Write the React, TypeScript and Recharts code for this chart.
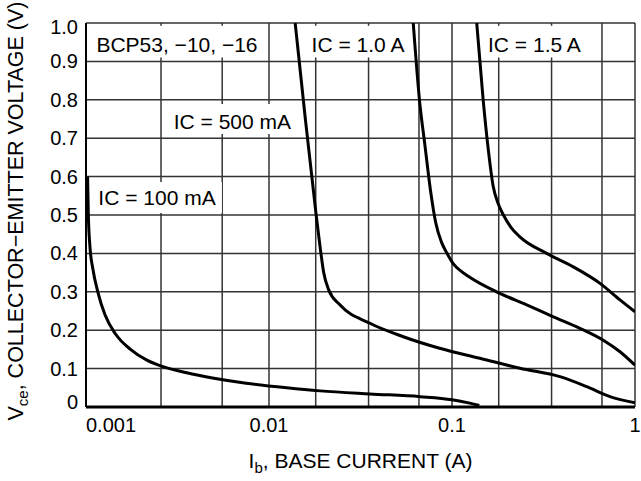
import { LineChart, Line, XAxis, YAxis, CartesianGrid, ReferenceArea } from 'recharts';

const xTicks = [0.001, 0.01, 0.1, 1];
const yTicks = [0, 0.1, 0.2, 0.3, 0.4, 0.5, 0.6, 0.7, 0.8, 0.9, 1.0];

// minor grid lines as placed in the original sheet (not exact 2..9 log positions)
const xGrid = [
  0.001, 0.0018, 0.00257, 0.0035, 0.00455, 0.00555, 0.0066, 0.0078, 0.0089,
  0.01, 0.018, 0.0257, 0.035, 0.0455, 0.0555, 0.066, 0.078, 0.089,
  0.1, 0.18, 0.257, 0.35, 0.455, 0.555, 0.66, 0.78, 0.89, 1,
];

const ic100 = [
  { x: 0.00102, y: 0.6 }, { x: 0.00103, y: 0.5 }, { x: 0.00105, y: 0.42 },
  { x: 0.00109, y: 0.36 }, { x: 0.00116, y: 0.3 }, { x: 0.00127, y: 0.24 },
  { x: 0.00145, y: 0.19 }, { x: 0.00175, y: 0.15 }, { x: 0.00215, y: 0.122 },
  { x: 0.00264, y: 0.105 }, { x: 0.00355, y: 0.089 }, { x: 0.005, y: 0.075 },
  { x: 0.0075, y: 0.062 }, { x: 0.0125, y: 0.05 }, { x: 0.019, y: 0.042 },
  { x: 0.0356, y: 0.034 }, { x: 0.067, y: 0.027 }, { x: 0.1, y: 0.019 },
  { x: 0.125, y: 0.01 }, { x: 0.141, y: 0.004 },
];

const ic500 = [
  { x: 0.0139, y: 1.0 }, { x: 0.0158, y: 0.75 }, { x: 0.0181, y: 0.5 },
  { x: 0.0191, y: 0.41 }, { x: 0.0199, y: 0.35 }, { x: 0.0212, y: 0.305 },
  { x: 0.0244, y: 0.266 }, { x: 0.0356, y: 0.218 }, { x: 0.0542, y: 0.183 },
  { x: 0.0855, y: 0.153 }, { x: 0.142, y: 0.127 }, { x: 0.235, y: 0.101 },
  { x: 0.389, y: 0.079 }, { x: 0.545, y: 0.053 }, { x: 0.73, y: 0.027 },
  { x: 1.0, y: 0.011 },
];

const ic1000 = [
  { x: 0.0614, y: 1.0 }, { x: 0.0664, y: 0.8 }, { x: 0.0712, y: 0.68 },
  { x: 0.0765, y: 0.56 }, { x: 0.0815, y: 0.48 }, { x: 0.0875, y: 0.43 },
  { x: 0.0935, y: 0.402 }, { x: 0.102, y: 0.372 }, { x: 0.112, y: 0.354 },
  { x: 0.125, y: 0.338 }, { x: 0.175, y: 0.3 }, { x: 0.256, y: 0.266 },
  { x: 0.358, y: 0.235 }, { x: 0.5, y: 0.205 }, { x: 0.671, y: 0.174 },
  { x: 0.828, y: 0.144 }, { x: 1.0, y: 0.109 },
];

const ic1500 = [
  { x: 0.1365, y: 1.0 }, { x: 0.148, y: 0.8 }, { x: 0.158, y: 0.669 },
  { x: 0.168, y: 0.574 }, { x: 0.178, y: 0.532 }, { x: 0.191, y: 0.5 },
  { x: 0.21, y: 0.468 }, { x: 0.235, y: 0.443 }, { x: 0.329, y: 0.4 },
  { x: 0.46, y: 0.365 }, { x: 0.644, y: 0.322 }, { x: 0.828, y: 0.279 },
  { x: 1.0, y: 0.248 },
];

const FONT = '"Liberation Sans", Arial, Helvetica, sans-serif';

const XTick = (props: any) => {
  const { x, y, payload } = props;
  const v = payload.value;
  const anchor = v === 0.001 ? 'start' : 'middle';
  return (
    <text x={x} y={y + 25} textAnchor={anchor} fontSize={20} fill="#000">
      {String(v)}
    </text>
  );
};

const YTick = (props: any) => {
  const { x, y, payload } = props;
  const v = payload.value;
  let dy = 7;
  if (v === 1) dy = 11;
  if (v === 0) dy = 2;
  return (
    <text x={x - 8} y={y + dy} textAnchor="end" fontSize={20} fill="#000">
      {v === 0 ? '0' : v.toFixed(1)}
    </text>
  );
};

const XTitle = (props: any) => {
  const { x, y, width } = props.viewBox;
  return (
    <text x={x + width / 2} y={y + 61} textAnchor="middle" fontSize={21} fill="#000">
      I<tspan dy={5} fontSize={15}>b</tspan>
      <tspan dy={-5}>, BASE CURRENT (A)</tspan>
    </text>
  );
};

const YTitle = (props: any) => {
  const { x, y, height } = props.viewBox;
  const cx = x - 3;
  const cy = y + height / 2 - 4;
  return (
    <text
      x={cx}
      y={cy}
      transform={`rotate(-90, ${cx}, ${cy})`}
      textAnchor="middle"
      fontSize={21.5}
      fill="#000"
    >
      V<tspan dy={5} fontSize={15}>ce</tspan>
      <tspan dy={-5}>, COLLECTOR−EMITTER VOLTAGE (V)</tspan>
    </text>
  );
};

const boxLabel = (value: string, dy = 2) => ({
  value,
  position: 'center' as const,
  fontSize: 21,
  fill: '#000',
  dy,
});

export default function App() {
  return (
    <div style={{ position: 'absolute', left: 0, top: 0, fontFamily: FONT, background: '#fff' }}>
      <LineChart width={641} height={481} margin={{ top: 23, right: 6, left: 26, bottom: 44 }}>
        <CartesianGrid
          horizontalValues={yTicks}
          verticalValues={xGrid}
          stroke="#333"
          strokeWidth={1.5}
          fill="none"
        />
        <XAxis
          dataKey="x"
          type="number"
          scale="log"
          domain={[0.001, 1]}
          ticks={xTicks}
          allowDataOverflow
          height={30}
          tickLine={false}
          tickSize={0}
          tickMargin={0}
          tick={<XTick />}
          axisLine={{ stroke: '#000', strokeWidth: 3 }}
          label={{ content: XTitle }}
        />
        <YAxis
          type="number"
          domain={[0, 1]}
          ticks={yTicks}
          allowDataOverflow
          width={60}
          tickLine={false}
          tickSize={0}
          tickMargin={0}
          tick={<YTick />}
          axisLine={{ stroke: '#000', strokeWidth: 2 }}
          label={{ content: YTitle }}
        />
        <ReferenceArea x1={0.001025} x2={0.00963} y1={0.91} y2={0.993} fill="#fff" fillOpacity={1} stroke="none" label={boxLabel('BCP53, −10, −16', 3)} />
        <ReferenceArea x1={0.01633} x2={0.0575} y1={0.91} y2={0.993} fill="#fff" fillOpacity={1} stroke="none" label={boxLabel('IC = 1.0 A', 3)} />
        <ReferenceArea x1={0.144} x2={0.553} y1={0.91} y2={0.993} fill="#fff" fillOpacity={1} stroke="none" label={boxLabel('IC = 1.5 A', 3)} />
        <ReferenceArea x1={0.0028} x2={0.01422} y1={0.711} y2={0.789} fill="#fff" fillOpacity={1} stroke="none" label={boxLabel('IC = 500 mA', 3)} />
        <ReferenceArea x1={0.00108} x2={0.00553} y1={0.505} y2={0.586} fill="#fff" fillOpacity={1} stroke="none" label={boxLabel('IC = 100 mA', 0)} />
        <Line data={ic100} dataKey="y" type="monotone" stroke="#000" strokeWidth={3} dot={false} isAnimationActive={false} />
        <Line data={ic500} dataKey="y" type="monotone" stroke="#000" strokeWidth={3} dot={false} isAnimationActive={false} />
        <Line data={ic1000} dataKey="y" type="monotone" stroke="#000" strokeWidth={3} dot={false} isAnimationActive={false} />
        <Line data={ic1500} dataKey="y" type="monotone" stroke="#000" strokeWidth={3} dot={false} isAnimationActive={false} />
      </LineChart>
    </div>
  );
}
